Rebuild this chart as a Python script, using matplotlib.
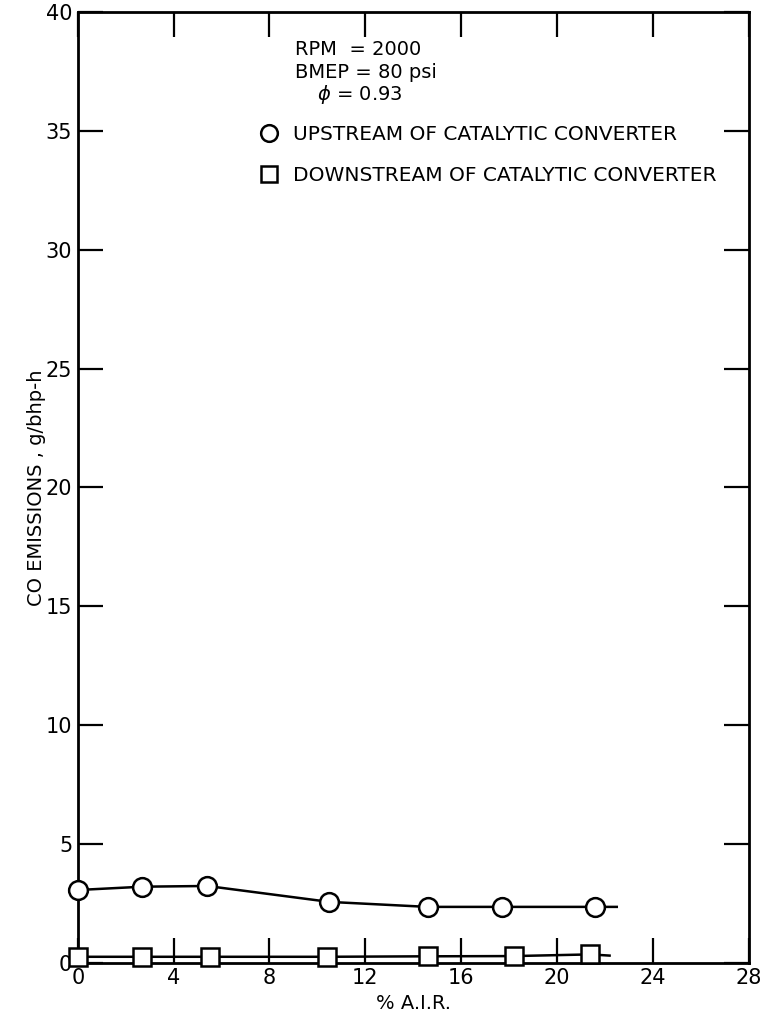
import numpy as np
from matplotlib import pyplot as plt
from matplotlib.lines import Line2D

plt.rcParams['font.family'] = ['Liberation Sans Narrow', 'DejaVu Sans']

# upstream of catalytic converter (circles)
air_up = [0.0, 2.7, 5.4, 10.5, 14.6, 17.7, 21.6]
co_up = [3.06, 3.2, 3.23, 2.56, 2.35, 2.35, 2.35]
up_end = (22.5, 2.35)

# downstream of catalytic converter (squares)
air_down = [0.0, 2.7, 5.5, 10.4, 14.6, 18.2, 21.4]
co_down = [0.25, 0.25, 0.25, 0.25, 0.27, 0.28, 0.35]
down_end = (22.2, 0.3)

xticks = [0, 4, 8, 12, 16, 20, 24, 28]
yticks = [0, 5, 10, 15, 20, 25, 30, 35, 40]


fig = plt.figure(figsize=(7.63, 10.22), dpi=100)
ax = fig.add_axes([0.102, 0.058, 0.879, 0.930])

ax.plot(air_up + [up_end[0]], co_up + [up_end[1]], color='black', lw=1.8, zorder=2)
ax.plot(air_up, co_up, 'o', ms=13.5, mfc='white', mec='black', mew=1.8, zorder=3, clip_on=False)

ax.plot(air_down + [down_end[0]], co_down + [down_end[1]], color='black', lw=1.8, zorder=2)
ax.plot(air_down, co_down, 's', ms=13.5, mfc='white', mec='black', mew=1.8, zorder=3, clip_on=False)

ax.set_xlim(0, 28)
ax.set_ylim(0, 40)
ax.set_xticks(xticks)
ax.set_yticks(yticks)
ax.tick_params(direction='in', length=18, width=1.6, labelsize=15, pad=4,
               top=True, right=True)
for s in ax.spines.values():
    s.set_linewidth(2)

ax.set_xlabel('% A.I.R.', fontsize=14, labelpad=4)
ax.set_ylabel('CO EMISSIONS , g/bhp-h', fontsize=14, labelpad=0)

ax.text(0.324, 0.961, 'RPM  = 2000', transform=ax.transAxes, fontsize=14, va='center')
ax.text(0.324, 0.937, 'BMEP = 80 psi', transform=ax.transAxes, fontsize=14, va='center')
ax.text(0.356, 0.913, r'$\phi$ = 0.93', transform=ax.transAxes, fontsize=14, va='center')

handles = [Line2D([], [], ls='none', marker='o', ms=12, mfc='white', mec='black', mew=1.8),
           Line2D([], [], ls='none', marker='s', ms=12, mfc='white', mec='black', mew=1.8)]
ax.legend(handles, ['UPSTREAM OF CATALYTIC CONVERTER', 'DOWNSTREAM OF CATALYTIC CONVERTER'],
          loc='upper left', bbox_to_anchor=(0.24, 0.900), frameon=False,
          fontsize=14.5, handletextpad=0.6, labelspacing=1.05, handlelength=1.2)

fig.savefig('out.png')
